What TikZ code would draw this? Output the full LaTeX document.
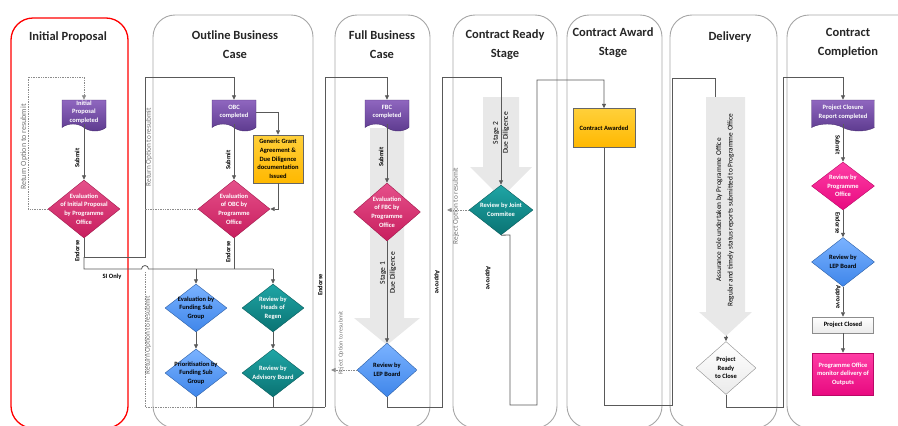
\documentclass[tikz,border=0pt]{standalone}
\usepackage{fontspec}
\setmainfont{Carlito}
\usepackage{tikz}
\usetikzlibrary{shapes,arrows,positioning,calc,arrows.meta}

\definecolor{docA}{HTML}{8F66BF}
\definecolor{docB}{HTML}{5C3A8E}
\definecolor{evalA}{HTML}{E5508A}
\definecolor{evalB}{HTML}{C81E5E}
\definecolor{pinkA}{HTML}{FF3DA5}
\definecolor{pinkB}{HTML}{E80A80}
\definecolor{blueA}{HTML}{7AB2FF}
\definecolor{blueB}{HTML}{3F86EA}
\definecolor{tealA}{HTML}{1FA5A5}
\definecolor{tealB}{HTML}{0A7373}
\definecolor{ambA}{HTML}{FFD03A}
\definecolor{ambB}{HTML}{FFB800}
\definecolor{lanegray}{HTML}{A6A6A6}
\definecolor{linegray}{HTML}{595959}

\begin{document}
\begin{tikzpicture}[x=1pt, y=-1pt,
    lane/.style={draw=lanegray, line width=0.9pt, rounded corners=22pt},
    lanetitle/.style={font=\fontsize{12.5}{19}\selectfont\bfseries, text=black!85, align=center, inner sep=0pt},
    boxtext/.style={font=\fontsize{6.5}{8.7}\selectfont\bfseries, align=center, inner sep=0pt},
    doc/.style={boxtext, shape=tape, tape bend top=none, tape bend bottom=out and in, tape bend height=7pt, draw=docB!80!black, line width=0.4pt, top color=docA, bottom color=docB, text=white, minimum height=31pt},
    dia/.style={shape=diamond, inner sep=0pt, line width=0.4pt},
    evaldia/.style={dia, draw=evalB!80!black, top color=evalA, bottom color=evalB},
    pinkdia/.style={dia, draw=pinkB!80!black, top color=pinkA, bottom color=pinkB},
    bluedia/.style={dia, draw=blueB!70!black, top color=blueA, bottom color=blueB},
    tealdia/.style={dia, draw=tealB!80!black, top color=tealA, bottom color=tealB},
    greydia/.style={dia, draw=black!45, top color=white, bottom color=black!8},
    wtext/.style={label={[boxtext, text=white]center:#1}},
    btext/.style={label={[boxtext, text=black]center:#1}},
    ambbox/.style={boxtext, draw=black!60, line width=0.5pt, top color=ambA, bottom color=ambB},
    conn/.style={draw=linegray, line width=0.8pt},
    arr/.style={conn, -{Triangle[length=4.5pt, width=4pt]}},
    retn/.style={draw=black!45, line width=0.7pt, densely dotted},
    retarr/.style={retn, -{Triangle[length=4.5pt, width=4pt]}},
    flowlab/.style={font=\fontsize{6.5}{7}\selectfont\bfseries, inner sep=0pt},
    retlab/.style={font=\fontsize{7.3}{8}\selectfont, text=black!55, inner sep=0pt},
    bigarrow/.style={fill=black!9},
    stagelab/.style={font=\fontsize{7.5}{10}\selectfont, align=center, inner sep=0pt}
]
\useasboundingbox (0,0) rectangle (898,426);

% Swim lanes
\draw[lane, draw=red, line width=1.3pt] (11,18) rectangle (128,428);
\draw[lane] (153,15) rectangle (313,428);
\draw[lane] (335,15) rectangle (430,428);
\draw[lane] (453,15) rectangle (557,428);
\draw[lane] (567,15) rectangle (662,428);
\draw[lane] (670,15) rectangle (777,428);
\draw[lane] (787,15) rectangle (930,428);

\node[lanetitle] (tinit) at (68,37) {Initial Proposal};
\node[lanetitle] (tobc) at (235,45) {Outline Business\\Case};
\node[lanetitle] (tfbc) at (382,45) {Full Business\\Case};
\node[lanetitle] (tready) at (505,45) {Contract Ready\\Stage};
\node[lanetitle] (taward) at (613,43) {Contract Award\\Stage};
\node[lanetitle] (tdeliv) at (730,37) {Delivery};
\node[lanetitle] (tcompl) at (848,43) {Contract\\Completion};

% Due diligence bands
\fill[bigarrow] (370,128) -- (404,128) -- (404,318) -- (420,318) -- (387,345) -- (354,318) -- (370,318) -- cycle;
\fill[bigarrow] (483,97) -- (519,97) -- (519,167) -- (532,167) -- (501,198) -- (470,167) -- (483,167) -- cycle;

% Initial Proposal
\node[doc, minimum width=44pt] (ipdoc) at (84,112) {Initial\\Proposal\\completed};
\node[evaldia, minimum width=72pt, minimum height=58pt, wtext={Evaluation\\of Initial Proposal\\by Programme\\Office}] (ipeval) at (84,209) {};

% Outline Business Case
\node[doc, minimum width=44pt] (obcdoc) at (234,112) {OBC\\completed};
\node[ambbox, minimum width=50pt, minimum height=48pt] (obcgga) at (278,159) {Generic Grant\\Agreement \& \\Due Diligence\\documentation\\Issued};
\node[evaldia, minimum width=72pt, minimum height=58pt, wtext={Evaluation\\of OBC by\\Programme\\Office}] (obceval) at (234,209) {};
\node[bluedia, minimum width=62pt, minimum height=48pt, btext={Evaluation by\\Funding Sub\\Group}] (fsgeval) at (196,308) {};
\node[bluedia, minimum width=62pt, minimum height=48pt, btext={Prioritisation by\\Funding Sub\\Group}] (fsgprio) at (196,373) {};
\node[tealdia, minimum width=62pt, minimum height=48pt, wtext={Review by\\Heads of\\Regen}] (regenrev) at (273,308) {};
\node[tealdia, minimum width=62pt, minimum height=48pt, wtext={Review by\\Advisory Board}] (advrev) at (273,373) {};

% Full Business Case
\node[doc, minimum width=44pt] (fbcdoc) at (387,112) {FBC\\completed};
\node[evaldia, minimum width=67pt, minimum height=58pt, wtext={Evaluation\\of FBC by\\Programme\\Office}] (fbceval) at (387,212) {};
\node[bluedia, minimum width=60pt, minimum height=54pt, btext={Review by\\LEP Board}] (lepfbc) at (387,370) {};

% Contract Ready / Award
\node[tealdia, minimum width=64pt, minimum height=50pt, wtext={Review by Joint\\Commitee}] (jcrev) at (501,210) {};
\node[ambbox, minimum width=62pt, minimum height=39pt] (awarded) at (604,128) {Contract Awarded};

% Delivery
\node[greydia, minimum width=60pt, minimum height=53pt, btext={Project\\Ready\\to Close}] (readyclose) at (726,368) {};

% Contract Completion
\node[doc, minimum width=63pt] (closuredoc) at (843,112) {Project Closure\\Report completed};
\node[pinkdia, minimum width=63pt, minimum height=48pt, wtext={Review by\\Programme\\Office}] (poreview) at (843,186) {};
\node[bluedia, minimum width=63pt, minimum height=49pt, btext={Review by\\LEP Board}] (lepclose) at (843,262) {};
\node[boxtext, draw=black!45, line width=0.5pt, top color=white, bottom color=black!8, minimum width=61pt, minimum height=16pt] (closed) at (843,325) {Project Closed};
\node[boxtext, text=white, draw=pinkB!80!black, line width=0.4pt, top color=pinkA, bottom color=pinkB, minimum width=61pt, minimum height=42pt] (pomonitor) at (843,374) {Programme Office\\monitor delivery of\\Outputs};

% Connections
\draw[retarr] (ipeval.west) -- (28,209) -- (28,77) -| (ipdoc.north);
\draw[arr] (ipdoc.south) -- (ipeval.north);
\draw[arr] (ipeval.south) -- (84,257) -- (145,257) -- (145,77) -| (obcdoc.north);
\draw[conn] (84,257) -- (84,269) -- (141.5,269) arc[start angle=180, end angle=0, radius=3.5pt] -- (273,269);
\draw[arr] (196,269) -- (fsgeval.north);
\draw[arr] (273,269) -- (regenrev.north);

\draw[arr] (obcdoc.east) -| (obcgga.north);
\draw[arr] (obcgga.south) |- (obceval.east);
\draw[arr] (obcdoc.south) -- (obceval.north);
\draw[retn] (obceval.west) -- (145,209);
\draw[conn] (obceval.south) -- (234,269);
\draw[arr] (fsgeval.south) -- (fsgprio.north);
\draw[arr] (regenrev.south) -- (advrev.north);
\draw[retn] (145,272) -- (145,407) -- (250,407);
\draw[conn] (fsgprio.south) -- (196,407) -- (325,407);
\draw[conn] (advrev.south) -- (273,407);
\draw[arr] (325,407) -- (325,77) -| (fbcdoc.north);

\draw[arr] (fbcdoc.south) -- (fbceval.north);
\draw[arr] (fbceval.south) -- (lepfbc.north);
\draw[retarr] (lepfbc.west) -- (331,370);
\draw[arr] (lepfbc.south) -- (387,407) -- (442,407) -- (442,77) -| (jcrev.north);

\draw[retarr] (jcrev.west) -- (447,210);
\draw[arr] (jcrev.south) -- (510,235) -- (510,405) -- (537,405) -- (537,80) -| (awarded.north);

\draw[arr] (awarded.south) -- (604,405) -- (672,405) -- (672,78) -- (715,78) -- (715,300) -- (726,300) -- (readyclose.north);
\draw[arr] (readyclose.south) -- (726,407) -- (783,407) -- (783,77) -| (closuredoc.north);

\draw[arr] (closuredoc.south) -- (poreview.north);
\draw[arr] (poreview.south) -- (lepclose.north);
\draw[arr] (lepclose.south) -- (closed.north);
\draw[arr] (closed.south) -- (pomonitor.north);

% Delivery assurance band
\fill[bigarrow] (706,97) -- (745,97) -- (745,312) -- (752,312) -- (726,336) -- (699,312) -- (706,312) -- cycle;
\node[stagelab, rotate=90, font=\fontsize{7.3}{11.5}\selectfont] (assure) at (725,210) {Assurance role undertaken by Programme Office\\Regular and timely status reports submitted to Programme Office};

% Labels
\node[retlab, rotate=90, font=\fontsize{8}{9}\selectfont] (ret1) at (24,147) {Return Option to resubmit};
\node[flowlab, rotate=90] (sub1) at (77,158) {Submit};
\node[flowlab, rotate=90] (end1) at (77,251) {Endorse};
\node[flowlab] (sionly) at (112,277) {SI Only};
\node[retlab, rotate=90] (ret2) at (149,147) {Return Option to resubmit};
\node[flowlab, rotate=90] (sub2) at (228,160) {Submit};
\node[flowlab, rotate=90] (end2) at (228,252) {Endorse};
\node[retlab, rotate=90] (ret3) at (148,335) {Return Option to resubmit};
\node[flowlab, rotate=90] (end3) at (320,285) {Endorse};
\node[flowlab, rotate=90] (sub3) at (381,157) {Submit};
\node[stagelab, rotate=90] (stage1) at (388,273) {Stage 1\\Due Diligence};
\node[retlab, rotate=90, font=\fontsize{6}{7}\selectfont] (rej1) at (341,343) {Reject Option to resubmit};
\node[flowlab, rotate=-90] (app1) at (437,282) {Approve};
\node[stagelab, rotate=90] (stage2) at (501,133) {Stage 2\\Due Diligence};
\node[retlab, rotate=90] (rej2) at (456,206) {Reject Option to resubmit};
\node[flowlab, rotate=-90] (app2) at (488,278) {Approve};
\node[flowlab, rotate=-90] (sub4) at (838,145) {Submit};
\node[flowlab, rotate=-90] (end4) at (838,223) {Endorse};
\node[flowlab, rotate=-90] (app3) at (838,297) {Approve};
\end{tikzpicture}
\end{document}
